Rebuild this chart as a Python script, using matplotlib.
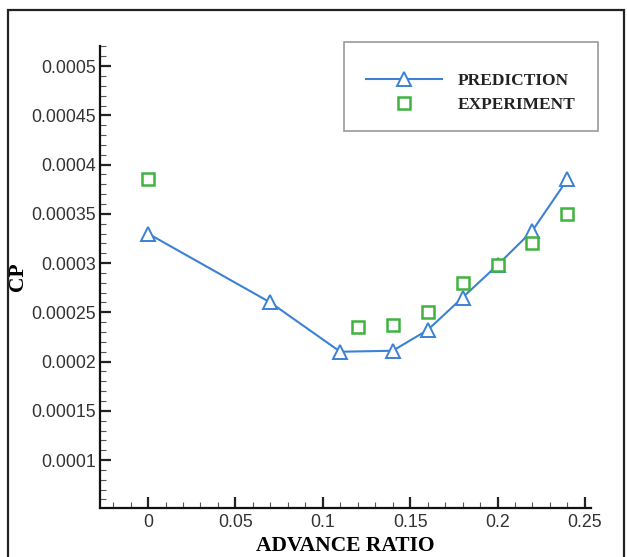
import matplotlib
matplotlib.use("Agg")
import matplotlib.pyplot as plt
from matplotlib.ticker import MultipleLocator
from matplotlib.patches import Rectangle

pred_x = [0.0, 0.07, 0.11, 0.14, 0.16, 0.18, 0.20, 0.22, 0.24]
pred_y = [0.000330, 0.000260, 0.000210, 0.000211, 0.000232, 0.000265, 0.000298, 0.000333, 0.000385]
exp_x = [0.0, 0.12, 0.14, 0.16, 0.18, 0.20, 0.22, 0.24]
exp_y = [0.000385, 0.000235, 0.000237, 0.000250, 0.000280, 0.000298, 0.000320, 0.000350]
x_ticks = [0, 0.05, 0.1, 0.15, 0.2, 0.25]
x_tick_labels = ["0", "0.05", "0.1", "0.15", "0.2", "0.25"]
y_ticks = [0.0001, 0.00015, 0.0002, 0.00025, 0.0003, 0.00035, 0.0004, 0.00045, 0.0005]
y_tick_labels = ["0.0001", "0.00015", "0.0002", "0.00025", "0.0003", "0.00035", "0.0004", "0.00045", "0.0005"]

W, H = 627, 557
fig = plt.figure(figsize=(W / 100, H / 100), dpi=100)
ax = fig.add_axes([100 / W, 1 - 508 / H, (591 - 100) / W, (508 - 45.5) / H])

blue = "#3b82d4"
green = "#3fb23f"
ax.plot(pred_x, pred_y, color=blue, lw=1.5, marker="^", ms=10.5, mfc="white",
        mec=blue, mew=1.4, label="PREDICTION", zorder=3)
ax.plot(exp_x, exp_y, ls="none", marker="s", ms=9, mfc="white", mec=green,
        mew=1.8, label="EXPERIMENT", zorder=4)

ax.set_xlim(-0.0275, 0.2535)
ax.set_ylim(0.0000513, 0.000521)
ax.set_xticks(x_ticks)
ax.set_xticklabels(x_tick_labels)
ax.set_yticks(y_ticks)
ax.set_yticklabels(y_tick_labels)
ax.xaxis.set_minor_locator(MultipleLocator(0.01))
ax.yaxis.set_minor_locator(MultipleLocator(0.00001))

for s in ["top", "right"]:
    ax.spines[s].set_visible(False)
for s in ["left", "bottom"]:
    ax.spines[s].set_linewidth(1.6)
    ax.spines[s].set_color("#111111")

ax.tick_params(which="major", direction="in", length=8, width=1.6, color="#222222",
               labelsize=12.8, pad=3)
ax.tick_params(axis="x", which="major", pad=4)
ax.tick_params(which="minor", direction="in", length=4, width=0.8, color="#555555")
for lab in ax.get_xticklabels() + ax.get_yticklabels():
    lab.set_family("Liberation Sans")
    lab.set_color("#333333")

ax.set_xlabel("ADVANCE RATIO", family="Liberation Serif", fontweight="bold",
              fontsize=15.5, labelpad=4)
ax.set_ylabel("CP", family="Liberation Serif", fontweight="bold", fontsize=15.5,
              labelpad=2)

# legend entries (frameless) placed inside a drawn box
leg = ax.legend(loc="upper left", bbox_to_anchor=(366 / W, 1 - 73 / H),
                bbox_transform=fig.transFigure,
                prop={"family": "Liberation Serif", "weight": "bold", "size": 12.5},
                frameon=False, borderpad=0, handlelength=4.4, handletextpad=0.9,
                labelspacing=0.42, borderaxespad=0)
for t in leg.get_texts():
    t.set_color("#222222")

fig.patches.append(Rectangle((344 / W, 1 - 131 / H), (598 - 344) / W, (131 - 42) / H,
                             transform=fig.transFigure, fill=False,
                             edgecolor="#999999", lw=1.2))

fig.patches.append(Rectangle((8 / W, -0.1), (624 - 8) / W, 1.1 - 10 / H,
                             transform=fig.transFigure, fill=False,
                             edgecolor="#222222", lw=1.6))

fig.savefig("out.png", dpi=100)
